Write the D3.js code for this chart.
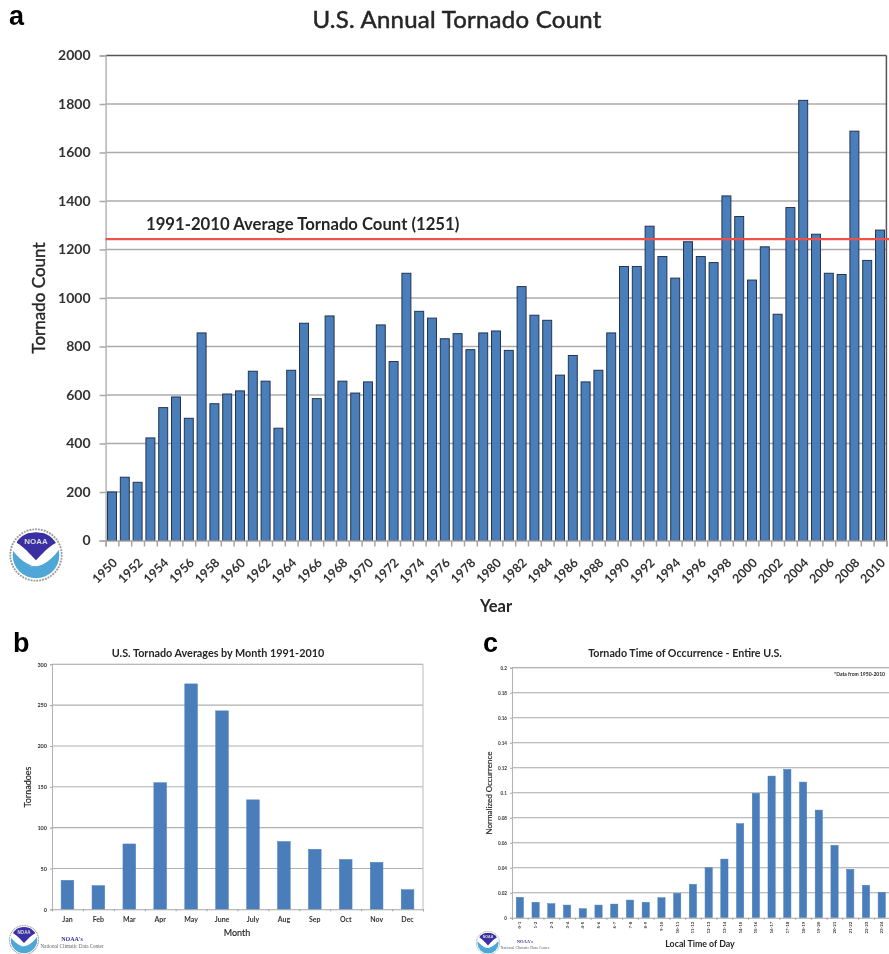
<!DOCTYPE html>
<html>
<head>
<meta charset="utf-8">
<script src="https://cdn.jsdelivr.net/npm/d3@7"></script>
<style>
html,body{margin:0;padding:0;background:#fff;}
svg{display:block;filter:blur(0.5px);}
text{font-family:Lato,"Noto Sans",sans-serif;fill:#262626;}
</style>
</head>
<body>
<div id="chart"></div>
<script>
// Panel a
const years = d3.range(1950, 2011);
const annualCounts = [200,261,240,423,548,592,504,856,564,604,617,698,657,463,702,896,585,926,657,608,654,889,738,1102,945,917,832,853,787,856,864,784,1047,929,908,682,763,654,702,856,1130,1130,1296,1171,1082,1232,1171,1146,1421,1336,1074,1211,933,1373,1815,1263,1102,1097,1688,1155,1280];
const averageLineValue = 1243;
const annualTicks = [0,200,400,600,800,1000,1200,1400,1600,1800,2000];
// Panel b
const months = ["Jan","Feb","Mar","Apr","May","June","July","Aug","Sep","Oct","Nov","Dec"];
const monthlyCounts = [35.5,29,80,155,276,243,134,83,73.5,61,57.5,24];
const monthlyTicks = [0,50,100,150,200,250,300];
// Panel c
const hours = ["0-1","1-2","2-3","3-4","4-5","5-6","6-7","7-8","8-9","9-10","10-11","11-12","12-13","13-14","14-15","15-16","16-17","17-18","18-19","19-20","20-21","21-22","22-23","23-24"];
const hourlyShare = [.0163,.0123,.0112,.0101,.0072,.0101,.0109,.0141,.0123,.016,.0195,.0267,.04,.0469,.0752,.0995,.1133,.1187,.1085,.0861,.0579,.0387,.0259,.0203];
const hourlyTicks = [0,.02,.04,.06,.08,.1,.12,.14,.16,.18,.2];

const svg = d3.select("#chart").append("svg").attr("width",889).attr("height",954);

function txt(x,y,s,size,weight,opts={}){
  const t = svg.append("text").attr("x",x).attr("y",y).attr("font-size",size)
    .attr("font-weight",weight).attr("text-anchor",opts.anchor||"middle").text(s);
  if(opts.family) t.style("font-family",opts.family);
  if(opts.fill) t.style("fill",opts.fill);
  if(opts.stroke) t.style("stroke","#262626").style("stroke-width",opts.stroke);
  if(opts.spacing) t.style("letter-spacing",opts.spacing+"px");
  if(opts.rotate) t.attr("transform",`rotate(${opts.rotate} ${x} ${y})`);
  return t;
}

function panel(cfg){
  const {cats,vals,ticks,left,right,top,bottom,maxV}=cfg;
  const g = svg.append("g");
  const x = d3.scaleBand().domain(cats).range([left,right]).paddingInner(cfg.padding).paddingOuter(cfg.padding/2);
  const xEdge = d3.scaleLinear().domain([0,cats.length]).range([left,right]);
  const y = d3.scaleLinear().domain([0,maxV]).range([bottom,top]);

  // gridlines
  g.append("g").selectAll("line").data(ticks.filter(t=>t>0)).join("line")
    .attr("x1",left).attr("x2",right).attr("y1",d=>y(d)).attr("y2",d=>y(d))
    .attr("stroke",(d)=>d===maxV?cfg.topColor:cfg.grid).attr("stroke-width",cfg.gridW);

  // frame side
  g.append("line").attr("x1",right).attr("x2",right).attr("y1",top).attr("y2",bottom)
    .attr("stroke",cfg.rightColor).attr("stroke-width",cfg.gridW);

  // bars
  g.append("g").selectAll("rect").data(vals).join("rect")
    .attr("x",(d,i)=>x(cats[i])).attr("width",x.bandwidth())
    .attr("y",d=>y(d)).attr("height",d=>y(0)-y(d))
    .attr("fill","#4a7ebb").attr("stroke",cfg.barStroke).attr("stroke-width",cfg.barStrokeW);

  // y axis
  const ya = g.append("g").attr("transform",`translate(${left},0)`)
    .call(d3.axisLeft(y).tickValues(ticks).tickSize(cfg.tick).tickPadding(cfg.yPad).tickFormat(cfg.yFmt||(d=>d)));
  ya.select(".domain").attr("stroke","#b4b4b4").attr("stroke-width",cfg.gridW);
  ya.selectAll(".tick line").attr("stroke","#a6a6a6").attr("stroke-width",cfg.gridW);
  ya.selectAll("text").attr("font-size",cfg.yFont).attr("font-weight",cfg.yWeight)
    .style("font-family","Lato").style("fill","#333");

  // x axis: tick marks at category edges
  const xe = g.append("g").attr("transform",`translate(0,${bottom})`)
    .call(d3.axisBottom(xEdge).tickValues(d3.range(cats.length+1)).tickSize(cfg.tick).tickFormat(""));
  xe.select(".domain").attr("stroke","#a6a6a6").attr("stroke-width",cfg.gridW);
  xe.selectAll(".tick line").attr("stroke","#a6a6a6").attr("stroke-width",cfg.gridW);

  // x axis: labels
  const xl = g.append("g").attr("transform",`translate(0,${bottom})`)
    .call(d3.axisBottom(x).tickValues(cfg.labelCats||cats).tickSize(0).tickPadding(cfg.xPad));
  xl.select(".domain").remove();
  const lab = xl.selectAll("text").attr("font-size",cfg.xFont).attr("font-weight",cfg.xWeight)
    .style("font-family","Lato").style("fill","#333");
  if(cfg.rotateLabel) cfg.rotateLabel(lab);
  return {x,y};
}

// Panel a
const pa = panel({cats:years,vals:annualCounts,ticks:annualTicks,left:105.6,right:886.4,top:55.5,bottom:540.5,maxV:2000,
  padding:.3,grid:"#ababab",topColor:"#555",rightColor:"#555",gridW:1.5,barStroke:"#24344f",barStrokeW:1,tick:6,yPad:9,
  yFont:14,yWeight:700,xFont:12.5,xWeight:700,xPad:0,
  labelCats:years.filter(d=>d%2===0),
  rotateLabel:s=>s.attr("text-anchor","end").attr("x",0).attr("y",0).attr("dy","0.35em")
    .attr("transform","translate(3,20) rotate(-45)")});
svg.append("line").attr("x1",105.6).attr("x2",889)
  .attr("y1",pa.y(averageLineValue)).attr("y2",pa.y(averageLineValue))
  .attr("stroke","#f0504a").attr("stroke-width",2.2);

txt(457,28,"U.S. Annual Tornado Count",24,400,{stroke:.5,spacing:.25});
txt(146,229.5,"1991-2010 Average Tornado Count (1251)",16.7,700,{anchor:"start"});
txt(45,298,"Tornado Count",17,400,{rotate:-90,stroke:.4});
txt(496,612,"Year",16.5,700);
txt(9,25,"a",27,700,{anchor:"start",family:"Liberation Sans",fill:"#000"});

// Panel b
panel({cats:months,vals:monthlyCounts,ticks:monthlyTicks,left:52,right:423,top:664.3,bottom:909.3,maxV:300,
  padding:.59,grid:"#b0b0b0",topColor:"#a0a0a0",rightColor:"#c0c0c0",gridW:1.1,barStroke:"#4a7ebb",barStrokeW:.5,tick:2,yPad:3,
  yFont:5.5,yWeight:700,xFont:7,xWeight:700,xPad:8});
txt(218,657,"U.S. Tornado Averages by Month 1991-2010",10.8,700);
txt(31,787,"Tornadoes",9,400,{rotate:-90,stroke:.15});
txt(237,936,"Month",9,400,{stroke:.15});
txt(13,652,"b",27,700,{anchor:"start",family:"Liberation Sans",fill:"#000"});

// Panel c
panel({cats:hours,vals:hourlyShare,ticks:hourlyTicks,left:512,right:889.6,top:667.7,bottom:917.7,maxV:.2,
  padding:.54,grid:"#a8a8a8",topColor:"#999",rightColor:"#fff",gridW:1.1,barStroke:"#4a7ebb",barStrokeW:.5,tick:2,yPad:3,
  yFont:4.6,yWeight:700,yFmt:d=>String(+d.toFixed(2)),xFont:4.4,xWeight:700,xPad:3,
  rotateLabel:s=>s.attr("text-anchor","end").attr("x",0).attr("y",0).attr("dy","0.35em")
    .attr("transform","translate(0,4) rotate(-90)")});
txt(685,657,"Tornado Time of Occurrence - Entire U.S.",10.7,700);
txt(885,675.5,"*Data from 1950-2010",5,700,{anchor:"end"});
txt(492,793,"Normalized Occurrence",8,400,{rotate:-90,stroke:.15});
txt(700,947,"Local Time of Day",8.8,700);
txt(483,652,"c",27,700,{anchor:"start",family:"Liberation Sans",fill:"#000"});

// NOAA logos
let logoId=0;
function logo(cx,cy,r){
  const id="lc"+(logoId++);
  const g=svg.append("g").attr("transform",`translate(${cx},${cy}) scale(${r})`);
  g.append("clipPath").attr("id",id).append("circle").attr("r",.88);
  g.append("circle").attr("r",.97).attr("fill","#fff").attr("stroke","#9a9a9a")
    .attr("stroke-width",.07).attr("stroke-dasharray",".07 .04");
  const c=g.append("g").attr("clip-path",`url(#${id})`);
  c.append("circle").attr("r",.88).attr("fill","#fff");
  c.append("path").attr("d","M-1,-.35 C-.75,.05 -.35,.42 .02,.42 C.4,.36 .72,.05 1,-.4 L1,1 L-1,1 Z").attr("fill","#4ea7d6");
  c.append("path").attr("d","M-.72,-.72 Q0,-1 .72,-.72 L.75,-.45 C.45,-.3 .25,-.05 .0,.2 C-.25,-.05 -.45,-.3 -.72,-.45 Z").attr("fill","#3a2fa3");
  c.append("path").attr("d","M-.25,.42 C.05,.35 .3,.2 .55,-.15 C.45,.2 .2,.45 -.25,.42 Z").attr("fill","#fff");
  g.append("text").attr("y",-.43).attr("font-size",.3).attr("font-weight",700).attr("text-anchor","middle")
    .style("fill","#ddd").style("font-family","Liberation Sans").text("NOAA");
}
logo(36,555,26.5);
logo(24,940,15);
logo(488,943,12);

const serif="Liberation Serif";
txt(72,941,"NOAA's",6,700,{family:serif,fill:"#2d2f9a"});
txt(72,948,"National Climatic Data Center",5.2,400,{family:serif,fill:"#666"});
txt(525,943,"NOAA's",4.5,700,{family:serif,fill:"#2d2f9a"});
txt(525,949,"National Climatic Data Center",4,400,{family:serif,fill:"#666"});
</script>
</body>
</html>
